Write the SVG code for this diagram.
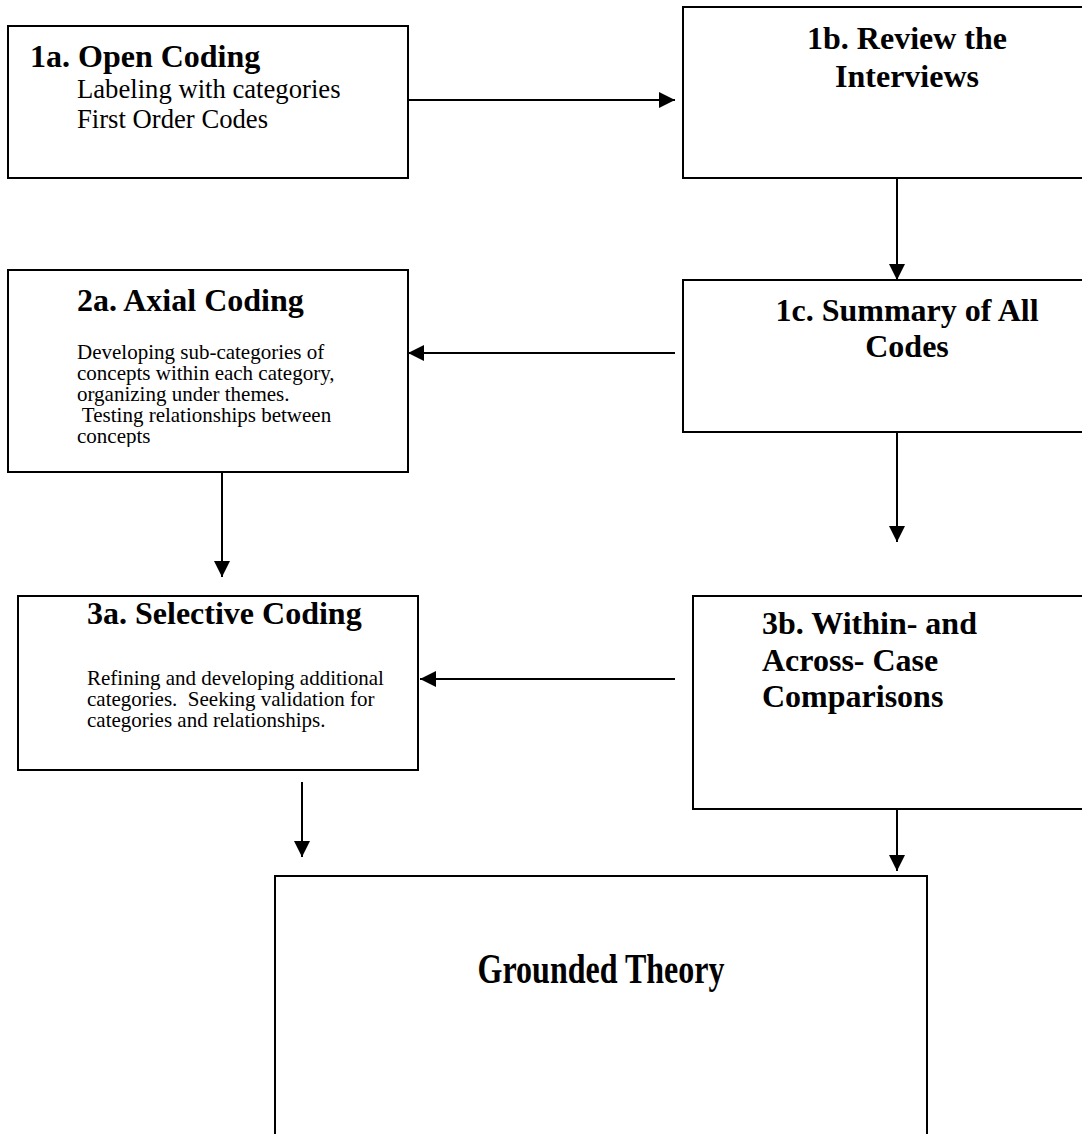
<svg xmlns="http://www.w3.org/2000/svg" width="1082" height="1134" viewBox="0 0 1082 1134">
  <defs>
    <style>
      .box { fill: #ffffff; stroke: #000000; stroke-width: 2; }
      .link { fill: none; stroke: #000000; stroke-width: 2; }
      .title { font-family: "Liberation Serif", "Times New Roman", serif; font-weight: bold; font-size: 32px; fill: #000000; }
      .body { font-family: "Liberation Serif", "Times New Roman", serif; font-size: 26.67px; fill: #000000; }
      .small { font-family: "Liberation Serif", "Times New Roman", serif; font-size: 21px; fill: #000000; }
    </style>
    <marker id="arrow" viewBox="0 0 16 16" refX="16" refY="8" markerWidth="16" markerHeight="16" markerUnits="userSpaceOnUse" orient="auto">
      <path d="M0,0 L16,8 L0,16 Z" fill="#000000"/>
    </marker>
    <clipPath id="clip2a">
      <rect x="8" y="270" width="400" height="177"/>
    </clipPath>
  </defs>

  <rect width="1082" height="1134" fill="#ffffff"/>

  <g id="connectors">
    <line class="link" x1="408" y1="100" x2="675" y2="100" marker-end="url(#arrow)"/>
    <line class="link" x1="897" y1="178" x2="897" y2="280" marker-end="url(#arrow)"/>
    <line class="link" x1="675" y1="353" x2="408" y2="353" marker-end="url(#arrow)"/>
    <line class="link" x1="222" y1="472" x2="222" y2="577" marker-end="url(#arrow)"/>
    <line class="link" x1="897" y1="432" x2="897" y2="542" marker-end="url(#arrow)"/>
    <line class="link" x1="675" y1="679" x2="420" y2="679" marker-end="url(#arrow)"/>
    <line class="link" x1="302" y1="782" x2="302" y2="857" marker-end="url(#arrow)"/>
    <line class="link" x1="897" y1="809" x2="897" y2="871" marker-end="url(#arrow)"/>
  </g>

  <g id="node-1a">
    <rect class="box" x="8" y="26" width="400" height="152"/>
    <text class="title" x="30" y="67">1a. Open Coding</text>
    <text class="body" x="77" y="98">Labeling with categories</text>
    <text class="body" x="77" y="128">First Order Codes</text>
  </g>

  <g id="node-1b">
    <rect class="box" x="683" y="7" width="410" height="171"/>
    <text class="title" x="907" y="49" text-anchor="middle">1b. Review the</text>
    <text class="title" x="907" y="87" text-anchor="middle">Interviews</text>
  </g>

  <g id="node-1c">
    <rect class="box" x="683" y="280" width="410" height="152"/>
    <text class="title" x="907" y="321" text-anchor="middle">1c. Summary of All</text>
    <text class="title" x="907" y="357" text-anchor="middle">Codes</text>
  </g>

  <g id="node-2a">
    <rect class="box" x="8" y="270" width="400" height="202"/>
    <text class="title" x="77" y="311">2a. Axial Coding</text>
    <g clip-path="url(#clip2a)">
      <text class="small" x="77" y="359">Developing sub-categories of</text>
      <text class="small" x="77" y="380">concepts within each category,</text>
      <text class="small" x="77" y="401">organizing under themes.</text>
      <text class="small" x="77" y="422" xml:space="preserve"> Testing relationships between</text>
      <text class="small" x="77" y="443">concepts</text>
    </g>
  </g>

  <g id="node-3a">
    <rect class="box" x="18" y="596" width="400" height="174"/>
    <text class="title" x="87" y="624">3a. Selective Coding</text>
    <text class="small" x="87" y="685">Refining and developing additional</text>
    <text class="small" x="87" y="706" xml:space="preserve">categories.  Seeking validation for</text>
    <text class="small" x="87" y="727">categories and relationships.</text>
  </g>

  <g id="node-3b">
    <rect class="box" x="693" y="596" width="400" height="213"/>
    <text class="title" x="762" y="634">3b. Within- and</text>
    <text class="title" x="762" y="671">Across- Case</text>
    <text class="title" x="762" y="707">Comparisons</text>
  </g>

  <g id="node-gt">
    <rect class="box" x="275" y="876" width="652" height="280"/>
    <text class="title" text-anchor="middle" transform="translate(601,983) scale(1,1.3)">Grounded Theory</text>
  </g>
</svg>
